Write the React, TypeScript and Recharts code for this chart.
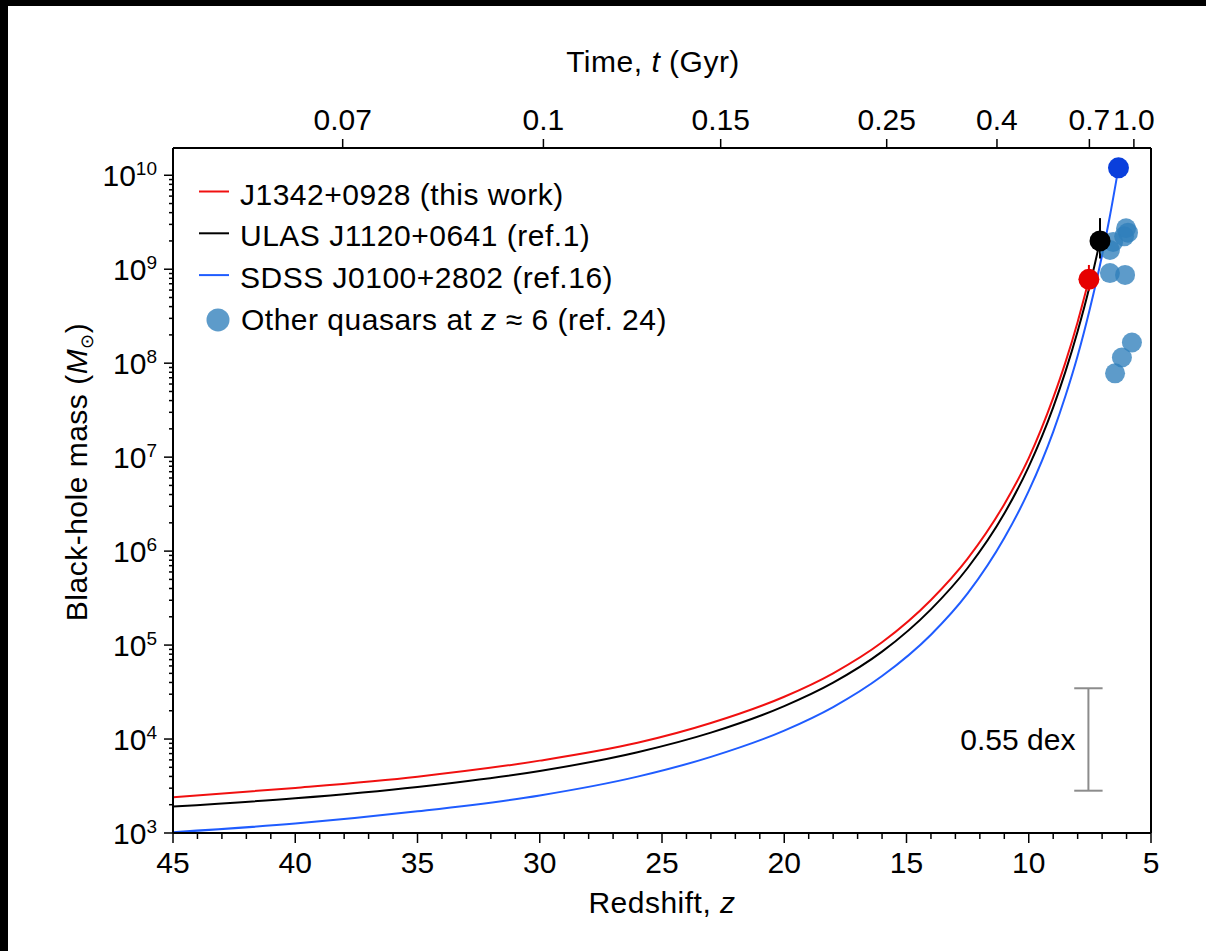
import React from 'react';
import { ComposedChart, Line, Scatter, XAxis, YAxis, ReferenceLine, ErrorBar } from 'recharts';

const FONT = '"Liberation Sans", Arial, Helvetica, sans-serif';

// ---- growth tracks (redshift z, black-hole mass in solar masses) ----
const redZ = [45, 40, 35, 30, 26, 23, 20, 18, 16, 14, 12.5, 11, 10, 9, 8.5, 8, 7.54];
const redM = [2400, 3020, 3980, 5890, 9120, 14800, 28200, 50100, 107000, 302000, 832000, 3.16e6, 9.77e6, 4.27e7, 1.02e8, 2.75e8, 7.76e8];

const blackZ = [45, 40, 35, 30, 26, 23, 20, 18, 16, 14, 12.5, 11, 10, 9, 8.5, 8, 7.5, 7.085];
const blackM = [1910, 2340, 3090, 4570, 7240, 11700, 22400, 39800, 85100, 240000, 661000, 2.51e6, 7.94e6, 3.39e7, 8.13e7, 2.19e8, 6.76e8, 2.0e9];

const blueZ = [45, 40, 35, 30, 26, 23, 20, 18, 16, 14, 12.5, 11, 10, 9, 8.5, 8, 7.5, 7, 6.7, 6.33];
const blueM = [1020, 1260, 1700, 2510, 3980, 6460, 12300, 21900, 46800, 129000, 355000, 1.38e6, 4.37e6, 1.86e7, 4.47e7, 1.2e8, 3.8e8, 1.41e9, 3.47e9, 1.2e10];

// ---- highlighted quasars ----
const quasarZ = [7.54, 7.085, 6.33];
const quasarM = [7.8e8, 2.0e9, 1.2e10];
const quasarErrLow = [1.9e8, 0.7e9, 0.19e10];
const quasarErrHigh = [3.3e8, 1.5e9, 0.19e10];
const quasarColors = ['#e60000', '#000000', '#0a3fdc'];

// ---- other quasars at z ~ 6 ----
const otherZ = [6.02, 6.10, 5.94, 6.55, 6.68, 6.68, 6.06, 5.78, 6.19, 6.47];
const otherM = [2.73e9, 2.24e9, 2.45e9, 1.95e9, 1.6e9, 9.1e8, 8.7e8, 1.66e8, 1.15e8, 7.8e7];

// ---- top time axis ----
const timeTickZ = [38.06, 29.85, 22.6, 15.81, 11.3, 7.52, 5.7];
const timeTickLabels = ['0.07', '0.1', '0.15', '0.25', '0.4', '0.7', '1.0'];

// ---- scale bar ----
const devBarZ = 7.56;
const devBarLow = 2.82e3;
const devBarHigh = 3.47e4;
const devBarCapHalf = 0.58;
const devBarLabel = '0.55 dex';

// ---- legend ----
const legendLabels = ['J1342+0928 (this work)', 'ULAS J1120+0641 (ref.1)', 'SDSS J0100+2802 (ref.16)'];
const lineColors = ['#f01010', '#000000', '#1f5cff'];
const otherColor = '#2f7fbb';

const redData = redZ.map((z, i) => ({ z, m: redM[i] }));
const blackData = blackZ.map((z, i) => ({ z, m: blackM[i] }));
const blueData = blueZ.map((z, i) => ({ z, m: blueM[i] }));
const otherData = otherZ.map((z, i) => ({ z, m: otherM[i] }));
const quasarData = quasarZ.map((z, i) => ({ z, m: quasarM[i], err: [quasarErrLow[i], quasarErrHigh[i]] }));

const zTicks: number[] = [];
for (let v = 5; v <= 45; v++) zTicks.push(v);
const mTicks: number[] = [];
for (let e = 3; e <= 9; e++) for (let k = 1; k <= 9; k++) mTicks.push(k * Math.pow(10, e));
mTicks.push(1e10);

const YTick = (props: any) => {
  const { x, y, payload } = props;
  const v = payload.value;
  const e = Math.round(Math.log10(v));
  const major = Math.abs(v / Math.pow(10, e) - 1) < 1e-6;
  return (
    <g>
      <line x1={x} x2={x - (major ? 9 : 4)} y1={y} y2={y} stroke="#000" strokeWidth={1.5} />
      {major && (
        <text x={x - 16} y={y + 10.5} textAnchor="end" fontSize={30} fill="#000" fontFamily={FONT}>
          10<tspan dy={-11} fontSize={19}>{e}</tspan>
        </text>
      )}
    </g>
  );
};

const XTick = (props: any) => {
  const { x, y, payload } = props;
  const v = payload.value;
  const major = v % 5 === 0;
  return (
    <g>
      <line x1={x} x2={x} y1={y} y2={y + (major ? 10 : 6)} stroke="#000" strokeWidth={1.5} />
      {major && (
        <text x={x} y={y + 40} textAnchor="middle" fontSize={30} fill="#000" fontFamily={FONT}>
          {v}
        </text>
      )}
    </g>
  );
};

const TopTick = (props: any) => {
  const { x, y, payload } = props;
  const idx = timeTickZ.indexOf(payload.value);
  return (
    <g>
      <line x1={x} x2={x} y1={y} y2={y - 9} stroke="#000" strokeWidth={1.5} />
      <text x={x} y={y - 18} textAnchor="middle" fontSize={30} fill="#000" fontFamily={FONT}>
        {idx >= 0 ? timeTickLabels[idx] : ''}
      </text>
    </g>
  );
};

const dotShape = (r: number, color: string, opacity = 1) => (p: any) => (
  <circle cx={p.cx} cy={p.cy} r={r} fill={color} fillOpacity={opacity} />
);

export default function App() {
  const legendBase = 204.5;
  const legendStep = 41.8;
  return (
    <div style={{ position: 'fixed', left: 0, top: 0, width: 1206, height: 951, background: '#000', overflow: 'hidden' }}>
      <div style={{ position: 'absolute', left: 8, top: 6, width: 1220, height: 960, background: '#fff' }} />
      <div style={{ position: 'absolute', left: 0, top: 0 }}>
        <ComposedChart width={1206} height={951} margin={{ top: 88, right: 55, bottom: 58, left: 53 }}>
          <XAxis
            dataKey="z"
            type="number"
            domain={[5, 45]}
            reversed
            allowDataOverflow
            ticks={zTicks}
            interval={0}
            tick={<XTick />}
            tickSize={0}
            tickMargin={0}
            height={60}
            axisLine={{ stroke: '#000', strokeWidth: 2 }}
          />
          <XAxis
            xAxisId="top"
            dataKey="z"
            orientation="top"
            type="number"
            domain={[5, 45]}
            reversed
            allowDataOverflow
            ticks={timeTickZ}
            interval={0}
            tick={<TopTick />}
            tickSize={0}
            tickMargin={0}
            height={60}
            axisLine={{ stroke: '#000', strokeWidth: 2 }}
          />
          <YAxis
            dataKey="m"
            type="number"
            scale="log"
            domain={[1e3, 1.95e10]}
            allowDataOverflow
            ticks={mTicks}
            interval={0}
            tick={<YTick />}
            tickSize={0}
            tickMargin={0}
            width={120}
            axisLine={{ stroke: '#000', strokeWidth: 2 }}
          />
          <ReferenceLine x={5} stroke="#000" strokeWidth={2} />

          <ReferenceLine
            segment={[{ x: devBarZ, y: devBarLow }, { x: devBarZ, y: devBarHigh }]}
            stroke="#8c8c8c"
            strokeWidth={2}
            label={{ value: devBarLabel, position: 'left', offset: 13, fontSize: 30, fill: '#000', fontFamily: FONT }}
          />
          <ReferenceLine
            segment={[{ x: devBarZ + devBarCapHalf, y: devBarLow }, { x: devBarZ - devBarCapHalf, y: devBarLow }]}
            stroke="#8c8c8c"
            strokeWidth={2}
          />
          <ReferenceLine
            segment={[{ x: devBarZ + devBarCapHalf, y: devBarHigh }, { x: devBarZ - devBarCapHalf, y: devBarHigh }]}
            stroke="#8c8c8c"
            strokeWidth={2}
          />

          {/* invisible series binding the top (time) axis */}
          <Line xAxisId="top" data={redData} dataKey="m" stroke="none" strokeWidth={0} dot={false} activeDot={false} isAnimationActive={false} />

          <Scatter data={otherData} dataKey="m" shape={dotShape(10, otherColor, 0.78)} isAnimationActive={false} />

          <Line data={redData} dataKey="m" type="monotone" stroke={lineColors[0]} strokeWidth={2} dot={false} isAnimationActive={false} />
          <Line data={blackData} dataKey="m" type="monotone" stroke={lineColors[1]} strokeWidth={2} dot={false} isAnimationActive={false} />
          <Line data={blueData} dataKey="m" type="monotone" stroke={lineColors[2]} strokeWidth={2} dot={false} isAnimationActive={false} />

          {quasarData.map((d, i) => (
            <Scatter key={i} data={[d]} dataKey="m" shape={dotShape(10.5, quasarColors[i])} isAnimationActive={false}>
              <ErrorBar dataKey="err" direction="y" width={0} stroke={quasarColors[i]} strokeWidth={2} />
            </Scatter>
          ))}
        </ComposedChart>
      </div>
      <svg width={1206} height={951} style={{ position: 'absolute', left: 0, top: 0, pointerEvents: 'none' }} fontFamily={FONT}>
        <text x={653} y={72} textAnchor="middle" fontSize={30} letterSpacing={0.5} fill="#000">
          Time, <tspan fontStyle="italic">t</tspan> (Gyr)
        </text>
        <text x={662} y={913} textAnchor="middle" fontSize={30} letterSpacing={0.5} fill="#000">
          Redshift, <tspan fontStyle="italic">z</tspan>
        </text>
        <text transform="translate(87,472) rotate(-90)" textAnchor="middle" fontSize={30} letterSpacing={0.5} fill="#000">
          Black-hole mass (<tspan fontStyle="italic">M</tspan>
          <tspan fontSize={18} dy={6}>⊙</tspan>
          <tspan dy={-6}>)</tspan>
        </text>
        {legendLabels.map((lab, i) => (
          <g key={i}>
            <line x1={199} x2={229} y1={legendBase + i * legendStep - 13} y2={legendBase + i * legendStep - 13} stroke={lineColors[i]} strokeWidth={2} />
            <text x={240} y={legendBase + i * legendStep} fontSize={30} letterSpacing={0.5} fill="#000">
              {lab}
            </text>
          </g>
        ))}
        <circle cx={218} cy={legendBase + 3 * legendStep - 10} r={11.5} fill={otherColor} fillOpacity={0.78} />
        <text x={241} y={legendBase + 3 * legendStep} fontSize={30} letterSpacing={0.5} fill="#000">
          Other quasars at <tspan fontStyle="italic">z</tspan> ≈ 6 (ref. 24)
        </text>
      </svg>
    </div>
  );
}
